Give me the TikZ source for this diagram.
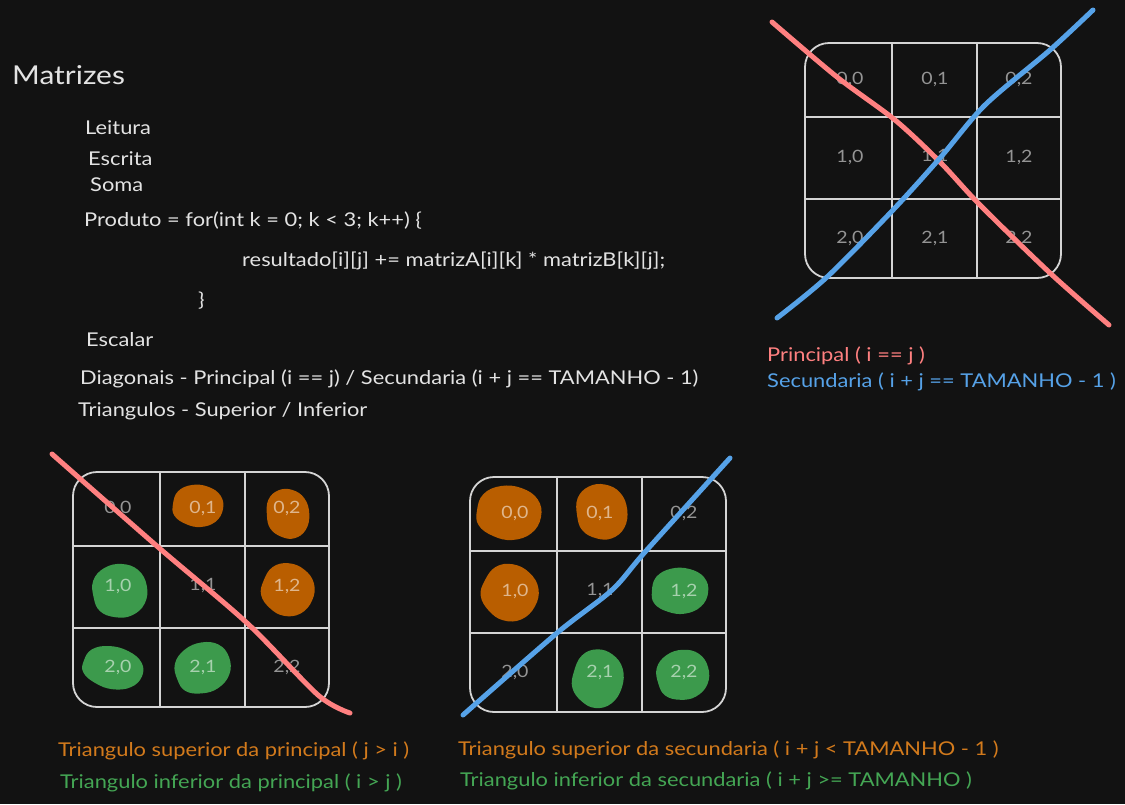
\documentclass[tikz,border=0pt]{standalone}
\usepackage{fontspec}
\setmainfont{Lato}[FakeStretch=1.15]
\usetikzlibrary{positioning}

\definecolor{fundo}{HTML}{121212}
\definecolor{giz}{HTML}{E3E3E3}
\definecolor{grade}{HTML}{D4D4D4}
\definecolor{vermelho}{HTML}{FF8080}
\definecolor{azul}{HTML}{56A2E8}
\definecolor{laranja}{HTML}{B95E00}
\definecolor{laranjatxt}{HTML}{D27A1C}
\definecolor{verde}{HTML}{3C9A4C}
\definecolor{verdetxt}{HTML}{44A654}

\tikzset{
  texto/.style={anchor=base west, inner sep=0pt, text=giz, font=\fontsize{19}{22}\selectfont},
  celula/.style={inner sep=0pt, text=white, text opacity=0.55, font=\fontsize{17}{20}\selectfont},
  linha/.style={draw=grade, line width=1.8pt},
  risco/.style={line width=5pt, line cap=round, line join=round},
  matriz/.pic={
    \draw[linha, rounded corners=24pt] (0,0) rectangle (256,235);
    \draw[linha] (87,0) -- (87,235) (172,0) -- (172,235)
                 (0,74) -- (256,74) (0,156) -- (256,156);
    \foreach \c/\x in {0/45,1/130,2/214}
      \foreach \r/\y in {0/36,1/114,2/195}
        \node[celula] (-\r\c) at (\x,\y) {\r,\c};
  }
}

% mancha rabiscada: cor, x, y, meia largura, meia altura, giro
\newcommand{\mancha}[6]{%
  \fill[#1, shift={(#2,#3)}, rotate=#6, xscale=#4, yscale=#5]
    plot[smooth cycle, tension=0.7] coordinates {(-1,-0.1) (-0.8,-0.7) (-0.25,-1) (0.4,-0.92)
      (0.9,-0.5) (1,0.15) (0.7,0.75) (0.1,1) (-0.5,0.85) (-0.95,0.45)};}

\begin{document}
\begin{tikzpicture}[x=1pt, y=-1pt]
  \useasboundingbox (0,0) rectangle (1125,804);
  \fill[fundo] (0,0) rectangle (1125,804);

  % manchas dos triangulos
  \mancha{laranja}{198}{506}{25}{21}{0}
  \mancha{laranja}{288}{514}{21}{25}{10}
  \mancha{laranja}{288}{590}{26}{26}{-15}
  \mancha{verde}{120}{591}{27}{27}{20}
  \mancha{verde}{113}{668}{30}{21}{-10}
  \mancha{verde}{203}{668}{28}{25}{30}
  \mancha{laranja}{509}{513}{32}{27}{0}
  \mancha{laranja}{602}{512}{25}{28}{15}
  \mancha{laranja}{510}{593}{28}{28}{-20}
  \mancha{verde}{680}{591}{28}{23}{5}
  \mancha{verde}{598}{679}{25}{29}{-10}
  \mancha{verde}{683}{675}{26}{25}{25}

  \pic (m1) at (805,43) {matriz};
  \pic (m2) at (73,472) {matriz};
  \pic (m3) at (470,477) {matriz};

  % anotacoes
  \node[texto, font=\fontsize{26}{30}\selectfont] (titulo) at (12,84) {Matrizes};
  \node[texto] (leitura) at (85,134) {Leitura};
  \node[texto] (escrita) at (88,165) {Escrita};
  \node[texto] (soma) at (90,191) {Soma};
  \node[texto] (produto) at (84,226) {Produto = for(int k = 0; k < 3; k++) \{};
  \node[texto] (corpo) at (242,266) {resultado[i][j] += matrizA[i][k] * matrizB[k][j];};
  \node[texto] (fecha) at (198,306) {\}};
  \node[texto] (escalar) at (86,346) {Escalar};
  \node[texto] (diagonais) at (80,384) {Diagonais - Principal (i == j) / Secundaria (i + j == TAMANHO - 1)};
  \node[texto] (triangulos) at (78,416) {Triangulos - Superior / Inferior};

  \node[texto, text=vermelho] (principal) at (767,361) {Principal ( i == j )};
  \node[texto, text=azul] (secundaria) at (767,387) {Secundaria ( i + j == TAMANHO - 1 )};

  \node[texto, text=laranjatxt] (supprinc) at (58,756) {Triangulo superior da principal ( j > i )};
  \node[texto, text=verdetxt] (infprinc) at (60,788) {Triangulo inferior da principal ( i > j )};
  \node[texto, text=laranjatxt] (supsec) at (458,755) {Triangulo superior da secundaria ( i + j < TAMANHO - 1 )};
  \node[texto, text=verdetxt] (infsec) at (460,786) {Triangulo inferior da secundaria ( i + j >= TAMANHO )};

  % riscos das diagonais
  \draw[risco, vermelho] plot[smooth, tension=0.5] coordinates {(772,22) (837,77) (895,120)
    (940,162) (980,205) (1050,273) (1109,325)};
  \draw[risco, azul] plot[smooth, tension=0.5] coordinates {(777,318) (827,277) (893,210)
    (940,158) (985,105) (1050,50) (1093,10)};
  \draw[risco, vermelho] plot[smooth, tension=0.5] coordinates {(52,454) (158,547) (247,623)
    (318,695) (350,713)};
  \draw[risco, azul] plot[smooth, tension=0.5] coordinates {(463,715) (557,633) (612,590)
    (645,552) (730,458)};
\end{tikzpicture}
\end{document}
